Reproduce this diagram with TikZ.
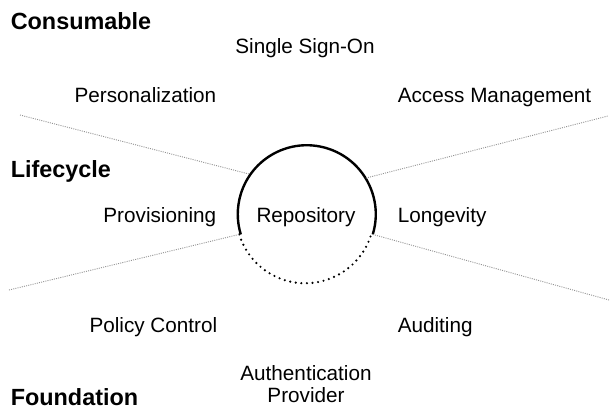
\documentclass[tikz,border=0pt]{standalone}
\usepackage{fontspec}
\setmainfont{Liberation Sans}
\usepackage{tikz}

\tikzset{
  label/.style={inner sep=0pt, font=\fontsize{10.35}{11}\selectfont},
  layer/.style={inner sep=0pt, anchor=base west, font=\fontsize{11.7}{13}\selectfont\bfseries},
  divider/.style={gray!85, line width=0.45pt, dash pattern=on 0.5pt off 0.6pt}
}

\begin{document}
\begin{tikzpicture}[x=0.5pt, y=-0.5pt, thick]
  \useasboundingbox (0,0) rectangle (610,408);

  % draw the repository in the middle
  \node[circle, minimum size=69pt, inner sep=0pt] (repo) at (306,214) {};
  \node[label, anchor=base] (repotext) at (306,222) {Repository};
  \draw[line width=1.2pt] (repo.-17) arc[start angle=-17, end angle=197, radius=34.5pt];
  \draw[line width=1.2pt, line cap=round, dash pattern=on 0pt off 2.8pt] (repo.197) arc[start angle=197, end angle=343, radius=34.5pt];

  % draw the dividing lines
  \coordinate (ul) at (20,115);
  \coordinate (ur) at (608,116);
  \coordinate (ll) at (9,290);
  \coordinate (lr) at (609,300);
  \draw[divider] (ul) -- (repo.145);
  \draw[divider] (repo.31) -- (ur);
  \draw[divider] (ll) -- (repo.197);
  \draw[divider] (repo.-17) -- (lr);

  % layer names
  \node[layer] (consumable) at (10,29) {Consumable};
  \node[layer] (lifecycle) at (10,177) {Lifecycle};
  \node[layer] (foundation) at (10,405) {Foundation};

  % services
  \node[label, anchor=base] (sso) at (305,53) {Single Sign-On};
  \node[label, anchor=base east] (personal) at (217,102) {Personalization};
  \node[label, anchor=base west] (access) at (397,102) {Access Management};
  \node[label, anchor=base east] (provision) at (217,222) {Provisioning};
  \node[label, anchor=base west] (longevity) at (397,222) {Longevity};
  \node[label, anchor=base east] (policy) at (218,332) {Policy Control};
  \node[label, anchor=base west] (auditing) at (397,332) {Auditing};
  \node[label, align=center, anchor=base] (authprov) at (306,402) {Authentication\\Provider};

\end{tikzpicture}
\end{document}
